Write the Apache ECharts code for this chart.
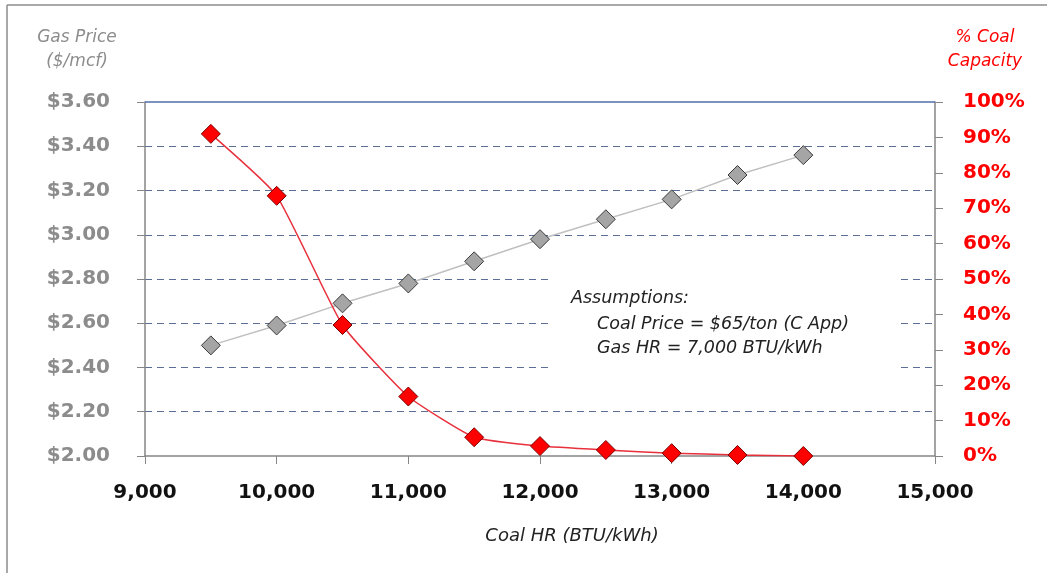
<!DOCTYPE html>
<html>
<head>
<meta charset="utf-8">
<script src="https://cdn.jsdelivr.net/npm/echarts@6/dist/echarts.min.js"></script>
<style>
html,body{margin:0;padding:0;background:#fff;}
#chart{width:1047px;height:573px;}
</style>
</head>
<body>
<div id="chart"></div>
<script>
const coalHR = [9500, 10000, 10500, 11000, 11500, 12000, 12500, 13000, 13500, 14000];
const gasPrice = [2.50, 2.59, 2.69, 2.78, 2.88, 2.98, 3.07, 3.16, 3.27, 3.36];
const coalCapacityPct = [91, 73.5, 37, 16.8, 5.3, 2.8, 1.7, 0.8, 0.3, 0];
const xTicks = {min: 9000, max: 15000, interval: 1000};
const gasTicks = {min: 2.0, max: 3.6, interval: 0.2};
const pctTicks = {min: 0, max: 100, interval: 10};
const leftTitle = ['Gas Price', '($/mcf)'];
const rightTitle = ['% Coal', 'Capacity'];
const xTitle = 'Coal HR (BTU/kWh)';
const notes = ['Assumptions:', 'Coal Price = $65/ton (C App)', 'Gas HR = 7,000 BTU/kWh'];

const chart = echarts.init(document.getElementById('chart'));
const labelFont = 'DejaVu Sans';
const txt = (text, x, y, color, size, align) => ({
  type: 'text', x: x, y: y, z: 5,
  style: {text: text, fill: color, font: 'oblique ' + size + 'px "DejaVu Sans"',
    textAlign: align || 'left', textVerticalAlign: 'middle'}
});

chart.setOption({
  animation: false,
  grid: {left: 145, right: 112, top: 102, bottom: 117},
  xAxis: {
    type: 'value', min: xTicks.min, max: xTicks.max, interval: xTicks.interval,
    axisLine: {lineStyle: {color: '#868686', width: 1.5}},
    axisTick: {show: true, length: 8, lineStyle: {color: '#868686'}},
    splitLine: {show: false},
    axisLabel: {
      color: '#111', fontFamily: labelFont, fontWeight: 'bold', fontSize: 20, margin: 27,
      formatter: v => v.toLocaleString('en-US')
    }
  },
  yAxis: [
    {
      type: 'value', min: gasTicks.min, max: gasTicks.max, interval: gasTicks.interval,
      axisLine: {show: true, lineStyle: {color: '#868686', width: 1.5}},
      axisTick: {show: true, length: 8, lineStyle: {color: '#868686'}},
      splitLine: {show: true, showMinLine: false, showMaxLine: false,
        lineStyle: {color: '#5a6f93', type: [7, 5], width: 1}},
      axisLabel: {color: '#8c8c8c', fontFamily: labelFont, fontWeight: 'bold', fontSize: 20, margin: 35,
        formatter: v => '$' + v.toFixed(2)}
    },
    {
      type: 'value', min: pctTicks.min, max: pctTicks.max, interval: pctTicks.interval,
      position: 'right',
      axisLine: {show: true, lineStyle: {color: '#868686', width: 1.5}},
      axisTick: {show: true, length: 8, lineStyle: {color: '#868686'}},
      splitLine: {show: false},
      axisLabel: {color: '#ff0000', fontFamily: labelFont, fontWeight: 'bold', fontSize: 20, margin: 28,
        formatter: v => v + '%'}
    }
  ],
  graphic: [
    {type: 'line', shape: {x1: 7, y1: 5, x2: 1047, y2: 5}, style: {stroke: '#8c8c8c', lineWidth: 1.5}},
    {type: 'line', shape: {x1: 7, y1: 5, x2: 7, y2: 573}, style: {stroke: '#8c8c8c', lineWidth: 1.5}},
    {type: 'rect', shape: {x: 549, y: 272, width: 349, height: 100}, style: {fill: '#fff'}, z: 1},
    txt(leftTitle[0], 77, 38, '#8c8c8c', 17, 'center'),
    txt(leftTitle[1], 77, 62, '#8c8c8c', 17, 'center'),
    txt(rightTitle[0], 985, 38, '#ff0000', 17, 'center'),
    txt(rightTitle[1], 985, 62, '#ff0000', 17, 'center'),
    txt(xTitle, 572, 536, '#222', 18, 'center'),
    txt(notes[0], 571, 298, '#222', 17.5),
    txt(notes[1], 597, 324, '#222', 17.5),
    txt(notes[2], 597, 348, '#222', 17.5)
  ],
  series: [
    {
      name: 'Gas Price', type: 'line', yAxisIndex: 0, z: 3,
      data: coalHR.map((x, i) => [x, gasPrice[i]]),
      symbol: 'diamond', symbolSize: 19,
      lineStyle: {color: '#c0c0c0', width: 1.5},
      itemStyle: {color: '#a5a5a5', borderColor: '#3a3a3a', borderWidth: 1},
      markLine: {
        silent: true, symbol: 'none', label: {show: false},
        lineStyle: {color: '#4f6fa8', type: 'solid', width: 1.5},
        data: [{yAxis: gasTicks.max}]
      }
    },
    {
      name: '% Coal Capacity', type: 'line', yAxisIndex: 1, z: 4,
      data: coalHR.map((x, i) => [x, coalCapacityPct[i]]),
      smooth: 0.15,
      symbol: 'diamond', symbolSize: 19,
      lineStyle: {color: '#e8303c', width: 1.5},
      itemStyle: {color: '#ff0000', borderColor: '#7a0000', borderWidth: 1}
    }
  ]
});
</script>
</body>
</html>
